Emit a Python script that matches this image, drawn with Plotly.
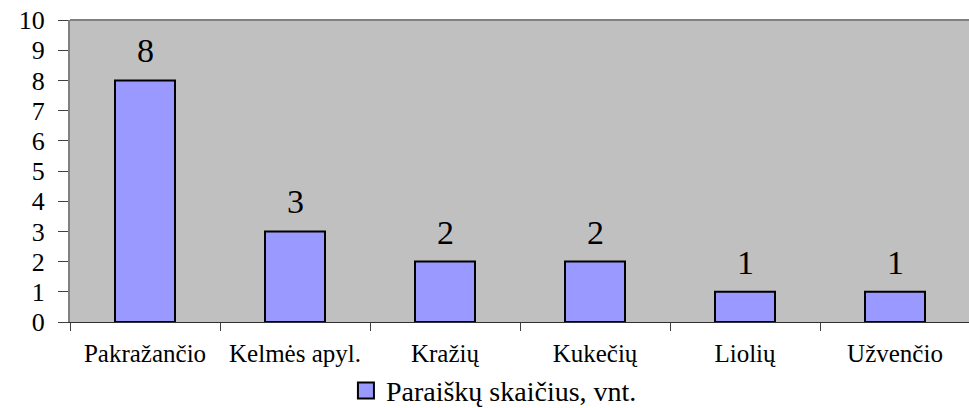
import plotly.graph_objects as go

# Number of applications per eldership
categories = ["Pakražančio", "Kelmės apyl.", "Kražių", "Kukečių", "Liolių", "Užvenčio"]
values = [8, 3, 2, 2, 1, 1]
series_name = "Paraiškų skaičius, vnt."

FONT = "Liberation Serif, Times New Roman, serif"
BAR_FILL = "#9999ff"

fig = go.Figure()
fig.add_trace(go.Bar(
    x=categories,
    y=values,
    name=series_name,
    width=0.4,
    marker=dict(color=BAR_FILL, line=dict(color="#000000", width=2)),
    showlegend=False,
))

# Legend entry with a larger square swatch
fig.add_trace(go.Scatter(
    x=[None], y=[None], mode="markers", name=series_name,
    marker=dict(symbol="square", size=16, color=BAR_FILL,
                line=dict(color="#000000", width=2)),
    showlegend=True,
))

# Value labels above each bar
for c, v in zip(categories, values):
    fig.add_annotation(x=c, y=v, text=str(v), showarrow=False,
                       yanchor="bottom", yshift=9,
                       font=dict(family=FONT, size=34, color="#000000"))

fig.update_layout(
    width=969, height=408,
    margin=dict(l=70, r=0, t=20, b=86, autoexpand=False),
    paper_bgcolor="#ffffff",
    plot_bgcolor="#c0c0c0",
    font=dict(family=FONT, color="#000000"),
    bargap=0.6,
    legend=dict(orientation="h", xref="container", yref="container",
                x=0.357, xanchor="left", y=0.042, yanchor="middle",
                font=dict(family=FONT, size=28), bgcolor="rgba(0,0,0,0)",
                itemwidth=30, itemsizing="trace"),
    xaxis=dict(
        type="category",
        range=[-0.5, 5.5 - 1 / 150],
        automargin=False,
        tickson="boundaries",
        ticks="outside", ticklen=8, tickcolor="#404040", tickwidth=1,
        showline=True, linecolor="#303030", linewidth=1,
        showgrid=False,
        ticklabelstandoff=9,
        tickfont=dict(family=FONT, size=25),
    ),
    yaxis=dict(
        range=[0, 10], dtick=1,
        automargin=False,
        ticks="outside", ticklen=10, tickcolor="#404040", tickwidth=1,
        showline=True, linecolor="#808080", linewidth=2,
        showgrid=False, zeroline=False,
        ticklabelstandoff=8,
        tickfont=dict(family=FONT, size=26),
    ),
)

# Dark top edge of the plot area
fig.add_shape(type="line", xref="paper", yref="paper", x0=0, x1=1, y0=1, y1=1,
              line=dict(color="#808080", width=2))

fig.write_html("out.html")
